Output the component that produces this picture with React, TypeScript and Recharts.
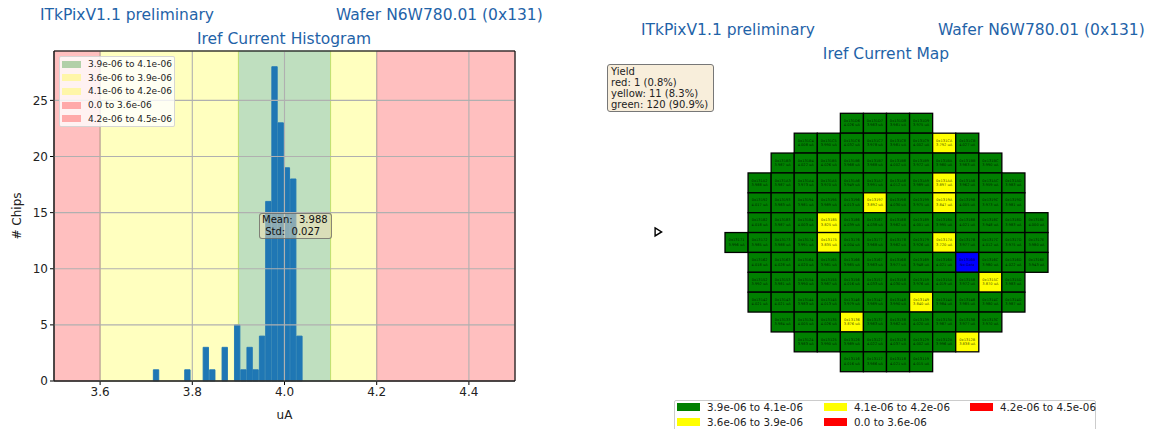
import { Bar, BarChart, CartesianGrid, ReferenceArea, Scatter, ScatterChart, XAxis, YAxis } from "recharts";

const FONT = '"DejaVu Sans", sans-serif';
const TITLE_BLUE = "#1f63a8";

// histogram of chip currents in uA
const binCenters = [3.722, 3.79, 3.83, 3.844, 3.871, 3.898, 3.9116, 3.925, 3.938, 3.952, 3.9656, 3.979, 3.9924, 4.0058, 4.0196, 4.033];
const binCounts = [1, 1, 3, 1, 3, 5, 1, 3, 1, 4, 16, 28, 23, 19, 18, 4];
const xTicks = [3.6, 3.8, 4.0, 4.2, 4.4];
const yTicks = [0, 5, 10, 15, 20, 25];

const bandStarts = [3.9, 3.6, 4.1, 3.5, 4.2];
const bandEnds = [4.1, 3.9, 4.2, 3.6, 4.5];
const bandColors = ["green", "yellow", "yellow", "red", "red"];
const bandLabels = ["3.9e-06 to 4.1e-06", "3.6e-06 to 3.9e-06", "4.1e-06 to 4.2e-06", "0.0 to 3.6e-06", "4.2e-06 to 4.5e-06"];

// wafer map: high nibble of the chip id is the row, low nibble the column
const rowIds = [13, 12, 11, 10, 9, 8, 7, 6, 5, 4, 3, 2, 1];
const rowFirstColumns = [6, 4, 3, 2, 2, 2, 1, 2, 2, 2, 3, 4, 6];
const rowD = [4.026, 3.983, 3.981, 3.975];
const rowC = [4.008, 3.99, 4.032, 3.978, 3.981, 4.002, 3.792, 4.027];
const rowB = [3.987, 4.022, 4.026, 3.968, 3.988, 4.002, 3.972, 3.98, 3.983, 3.99];
const rowA = [3.988, 3.987, 3.973, 3.97, 3.949, 3.991, 4.012, 3.989, 3.897, 3.962, 3.959, 3.983];
const row9 = [4.017, 3.983, 3.981, 3.989, 4.013, 3.892, 4.03, 3.975, 3.847, 4.005, 3.973, 3.981];
const row8 = [4.018, 3.987, 4.003, 3.825, 4.039, 4.038, 3.982, 4.001, 3.995, 4.021, 3.948, 3.983, 4.0];
const row7 = [3.996, 3.985, 3.988, 3.991, 3.835, 4.004, 3.968, 3.982, 3.926, 3.72, 3.977, 4.012, 3.975, 3.98];
const row6 = [4.018, 4.028, 4.02, 3.981, 3.985, 3.983, 3.977, 3.948, 4.021, null, 3.98, 4.022, 3.943];
const row5 = [3.992, 3.981, 3.99, 3.987, 4.016, 4.033, 4.03, 3.976, 4.019, 3.972, 3.87, 3.983];
const row4 = [4.021, 4.021, 3.983, 4.013, 3.979, 3.989, 3.99, 3.84, 3.984, 3.985, 3.98, 3.987];
const row3 = [3.984, 4.005, 4.026, 3.876, 3.983, 3.982, 4.02, 3.987, 3.977, 3.97];
const row2 = [3.983, 3.99, 3.989, 4.022, 4.037, 4.002, 3.996, 3.838];
const row1 = [4.016, 3.986, 4.021, 4.015];
const rows = [rowD, rowC, rowB, rowA, row9, row8, row7, row6, row5, row4, row3, row2, row1];

const notch = [{ column: -2.4, row: 7.53 }];
const yieldLines = ["Yield", "red: 1 (0.8%)", "yellow: 11 (8.3%)", "green: 120 (90.9%)"];

const histData = binCenters.map((center, i) => ({ center, count: binCounts[i] }));

const hex = (n: number) => n.toString(16).toUpperCase();
const cells = rows.flatMap((values, r) =>
  values.map((value, i) => ({
    column: rowFirstColumns[r] + i,
    row: rowIds[r],
    value,
    chip: `0x131${hex(rowIds[r])}${hex(rowFirstColumns[r] + i)}`,
  })),
);

function cellColor(value: number | null) {
  if (value === null) return "#0000ff";
  if (value < 3.9 || value > 4.1) return "#ffff00";
  return "#008000";
}

function WaferCell(props: any) {
  const { cx, cy, payload } = props;
  const w = 23.07;
  const h = 19.88;
  return (
    <g>
      <rect x={cx - w / 2} y={cy - h / 2} width={w} height={h} fill={cellColor(payload.value)} stroke="#000" strokeWidth={1.3} />
      <text x={cx} y={cy - 1.3} textAnchor="middle" fontSize={3.6} fontFamily={FONT} fill="#000" fillOpacity={0.75}>{payload.chip}</text>
      <text x={cx} y={cy + 3.2} textAnchor="middle" fontSize={3.6} fontFamily={FONT} fill="#000" fillOpacity={0.75}>
        {payload.value === null ? "No Data" : `${payload.value.toFixed(3)} uA`}
      </text>
    </g>
  );
}

function NotchMarker(props: any) {
  const { cx, cy } = props;
  return <path d={`M${cx - 3} ${cy - 4}L${cx + 3.5} ${cy}L${cx - 3} ${cy + 4}Z`} fill="#fff" stroke="#000" strokeWidth={1.4} />;
}

function Label({ x, y, center, children }: any) {
  return (
    <div
      style={{
        position: "absolute",
        left: x,
        top: y,
        fontSize: 15.5,
        color: TITLE_BLUE,
        fontFamily: FONT,
        whiteSpace: "pre",
        lineHeight: 1,
        transform: center ? "translateX(-50%)" : undefined,
      }}
    >
      {children}
    </div>
  );
}

function Histogram() {
  return (
    <div style={{ position: "absolute", left: 0, top: 0 }}>
      <BarChart width={575} height={429} data={histData} margin={{ top: 51, right: 60, bottom: 0, left: 0 }} barCategoryGap={0}>
        <XAxis
          dataKey="center"
          type="number"
          domain={[3.5, 4.5]}
          ticks={xTicks}
          tickFormatter={(v) => v.toFixed(1)}
          height={48}
          tick={{ fontSize: 12, fill: "#222", fontFamily: FONT }}
          tickLine={{ stroke: "#000" }}
          tickSize={4}
          axisLine={{ stroke: "#000" }}
          label={{ value: "uA", position: "insideBottom", offset: 10, fontSize: 12, fill: "#222", fontFamily: FONT }}
        />
        <YAxis
          type="number"
          domain={[0, 29.4]}
          ticks={yTicks}
          width={54}
          tick={{ fontSize: 12, fill: "#222", fontFamily: FONT }}
          tickLine={{ stroke: "#000" }}
          tickSize={4}
          axisLine={{ stroke: "#000" }}
          label={{ value: "# Chips", angle: -90, position: "insideLeft", offset: 17, fontSize: 12, fill: "#222", fontFamily: FONT, style: { textAnchor: "middle" } }}
        />
        {bandStarts.map((start, i) => (
          <ReferenceArea
            key={i}
            x1={start}
            x2={bandEnds[i]}
            fill={bandColors[i]}
            fillOpacity={0.25}
            stroke={bandColors[i]}
            strokeOpacity={0.25}
          />
        ))}
        <Bar dataKey="count" fill="#1f77b4" stroke="#1f77b4" strokeWidth={0.9} barSize={6} isAnimationActive={false} />
        <CartesianGrid stroke="#b0b0b0" strokeWidth={1.1} zIndex={500} />
        <ReferenceArea x1={3.5} x2={4.5} y1={0} y2={29.4} fill="none" stroke="#000" strokeWidth={1} zIndex={600} />
      </BarChart>
    </div>
  );
}

function WaferMap() {
  return (
    <div style={{ position: "absolute", left: 575, top: 0 }}>
      <ScatterChart width={575} height={429} margin={{ top: 113.3, right: 102, bottom: 57.3, left: 34.65 }}>
        <XAxis dataKey="column" type="number" domain={[-4.5, 14.5]} hide />
        <YAxis dataKey="row" type="number" domain={[0.5, 13.5]} hide />
        <Scatter data={cells} shape={WaferCell} isAnimationActive={false} />
        <Scatter data={notch} shape={NotchMarker} isAnimationActive={false} />
      </ScatterChart>
    </div>
  );
}

function BandLegend() {
  return (
    <div
      style={{
        position: "absolute",
        left: 59,
        top: 56,
        width: 116,
        height: 71,
        background: "rgba(255,255,255,0.8)",
        border: "1px solid rgba(204,204,204,0.8)",
        borderRadius: 2,
        boxSizing: "border-box",
        fontFamily: FONT,
        fontSize: 9,
        color: "#222",
      }}
    >
      {bandLabels.map((label, i) => (
        <div key={label} style={{ position: "absolute", left: 2, top: 0.5 + i * 13.7, display: "flex", alignItems: "center", height: 13, whiteSpace: "pre" }}>
          <span style={{ width: 19, height: 7, marginRight: 7, background: bandColors[i], opacity: 0.3 }} />
          {label}
        </div>
      ))}
    </div>
  );
}

const mapLegendColors = ["#008000", "#ffff00", "#ffff00", "#ff0000", "#ff0000"];
const mapLegendColumns = [0, 0, 1, 1, 2];
const mapLegendLines = [0, 1, 0, 1, 0];

function MapLegend() {
  const xs = [2, 149, 295];
  return (
    <div
      style={{
        position: "absolute",
        left: 674,
        top: 400,
        width: 422,
        height: 40,
        background: "#fff",
        border: "1px solid #ccc",
        borderRadius: 2,
        boxSizing: "border-box",
        fontFamily: FONT,
        fontSize: 10.3,
        color: "#222",
      }}
    >
      {bandLabels.map((label, i) => (
        <div key={label} style={{ position: "absolute", left: xs[mapLegendColumns[i]], top: -1 + mapLegendLines[i] * 14.7, display: "flex", alignItems: "center", height: 14, whiteSpace: "pre" }}>
          <span style={{ width: 23, height: 8, marginRight: 7, background: mapLegendColors[i] }} />
          {label}
        </div>
      ))}
    </div>
  );
}

export default function App() {
  return (
    <div style={{ position: "absolute", left: 0, top: 0, width: 1150, height: 429, overflow: "hidden", background: "#fff" }}>
      <Histogram />
      <WaferMap />
      <Label x={40} y={8}>ITkPixV1.1 preliminary</Label>
      <Label x={336} y={8}>Wafer N6W780.01 (0x131)</Label>
      <Label x={284} y={32} center>Iref Current Histogram</Label>
      <Label x={641} y={23}>ITkPixV1.1 preliminary</Label>
      <Label x={938} y={23}>Wafer N6W780.01 (0x131)</Label>
      <Label x={886} y={47} center>Iref Current Map</Label>
      <BandLegend />
      <div
        style={{
          position: "absolute",
          left: 259,
          top: 213,
          width: 73,
          height: 26,
          boxSizing: "border-box",
          background: "rgba(245,222,179,0.5)",
          border: "1px solid rgba(90,90,90,0.7)",
          borderRadius: 3,
          fontFamily: FONT,
          fontSize: 10,
          lineHeight: "12px",
          color: "#111",
          whiteSpace: "pre",
          padding: "0 2px",
        }}
      >
        {"Mean:  3.988\n Std:  0.027"}
      </div>
      <div
        style={{
          position: "absolute",
          left: 607,
          top: 64,
          width: 107,
          height: 48,
          boxSizing: "border-box",
          background: "#f8eedb",
          border: "1px solid #777",
          borderRadius: 3,
          fontFamily: FONT,
          fontSize: 10,
          lineHeight: "11px",
          color: "#222",
          padding: "1px 3px",
        }}
      >
        {yieldLines.map((line) => (
          <div key={line} style={{ whiteSpace: "pre" }}>{line}</div>
        ))}
      </div>
      <MapLegend />
    </div>
  );
}
